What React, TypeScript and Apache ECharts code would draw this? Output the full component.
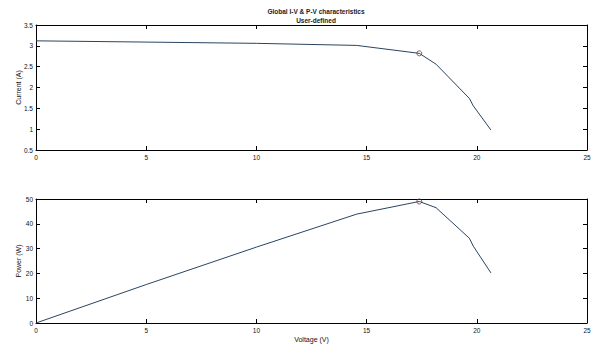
import React, { useEffect, useRef } from "react";
import * as echarts from "echarts";

const voltage = [0, 5, 10, 14.55, 17.39, 18.15, 19.66, 19.84, 20.64];
const current = [3.12, 3.09, 3.06, 3.01, 2.82, 2.56, 1.74, 1.56, 0.98];
const power = [0, 15.5, 30.6, 43.9, 49.0, 46.5, 34.2, 31.0, 20.2];
const mppVoltage = [17.39];
const mppCurrent = [2.82];
const mppPower = [49.0];
const titleLines = ["Global I-V & P-V characteristics", "User-defined"];

const FONT = "Liberation Sans, Arial, sans-serif";
const LINE = "#2a4560";

export default function App() {
  const ref = useRef<HTMLDivElement>(null);
  useEffect(() => {
    if (!ref.current) return;
    const chart = echarts.init(ref.current, null, { renderer: "svg" });
    const lbl = { fontSize: 6.5, color: "#111", fontFamily: FONT };
    const mkX = (gi: number, showLabel: boolean, pos: string, name?: string) => ({
      type: "value",
      gridIndex: gi,
      position: pos,
      min: 0,
      max: 25,
      interval: 5,
      name: name || "",
      nameLocation: "middle",
      nameGap: 13,
      nameMoveOverlap: false,
      nameTextStyle: { fontSize: 7, color: "#111", fontFamily: FONT },
      axisLine: { show: true, onZero: false, lineStyle: { color: "#000", width: 1 } },
      axisTick: { show: true, inside: true, length: 4, lineStyle: { color: "#000" } },
      axisLabel: { show: showLabel, ...lbl, margin: 4 },
      splitLine: { show: false },
    });
    const mkY = (gi: number, showLabel: boolean, pos: string, min: number, max: number, interval: number, name?: string, fmt?: (v: number) => string) => ({
      type: "value",
      gridIndex: gi,
      position: pos,
      min,
      max,
      interval,
      name: name || "",
      nameLocation: "middle",
      nameGap: 14,
      nameMoveOverlap: false,
      nameRotate: 90,
      nameTextStyle: { fontSize: 7, color: "#111", fontFamily: FONT },
      axisLine: { show: true, onZero: false, lineStyle: { color: "#000", width: 1 } },
      axisTick: { show: true, inside: true, length: 4, lineStyle: { color: "#000" } },
      axisLabel: { show: showLabel, ...lbl, margin: 3, formatter: fmt },
      splitLine: { show: false },
    });
    const fmtY = (v: number) => String(Math.round(v * 10) / 10);
    const marker = {
      type: "scatter",
      symbol: "circle",
      symbolSize: 5,
      itemStyle: { color: "rgba(0,0,0,0)", borderColor: "#7a2a2a", borderWidth: 1 },
      z: 5,
    };
    chart.setOption({
      animation: false,
      backgroundColor: "#fff",
      title: [
        { text: titleLines[0], left: 311, top: 3, textAlign: "center", textStyle: { fontSize: 6.5, fontWeight: "bold", color: "#222", fontFamily: FONT } },
        { text: titleLines[1], left: 311, top: 12, textAlign: "center", textStyle: { fontSize: 6.5, fontWeight: "bold", color: "#222", fontFamily: FONT } },
      ],
      grid: [
        { left: 36, right: 18, top: 25, height: 125 },
        { left: 36, right: 18, top: 199, height: 124 },
      ],
      xAxis: [
        mkX(0, true, "bottom"),
        mkX(0, false, "top"),
        mkX(1, true, "bottom", "Voltage (V)"),
        mkX(1, false, "top"),
      ],
      yAxis: [
        mkY(0, true, "left", 0.5, 3.5, 0.5, "Current (A)", fmtY),
        mkY(0, false, "right", 0.5, 3.5, 0.5),
        mkY(1, true, "left", 0, 50, 10, "Power (W)"),
        mkY(1, false, "right", 0, 50, 10),
      ],
      series: [
        {
          type: "line",
          xAxisIndex: 0,
          yAxisIndex: 0,
          data: voltage.map((v, i) => [v, current[i]]),
          showSymbol: false,
          lineStyle: { color: LINE, width: 1 },
        },
        {
          type: "line",
          xAxisIndex: 2,
          yAxisIndex: 2,
          data: voltage.map((v, i) => [v, power[i]]),
          showSymbol: false,
          lineStyle: { color: LINE, width: 1 },
        },
        {
          ...marker,
          xAxisIndex: 0,
          yAxisIndex: 0,
          data: mppVoltage.map((v, i) => [v, mppCurrent[i]]),
        },
        {
          ...marker,
          xAxisIndex: 2,
          yAxisIndex: 2,
          data: mppVoltage.map((v, i) => [v, mppPower[i]]),
        },
      ],
    });
    return () => chart.dispose();
  }, []);
  return <div ref={ref} style={{ width: 605, height: 345, position: "absolute", left: 0, top: 0 }} />;
}
